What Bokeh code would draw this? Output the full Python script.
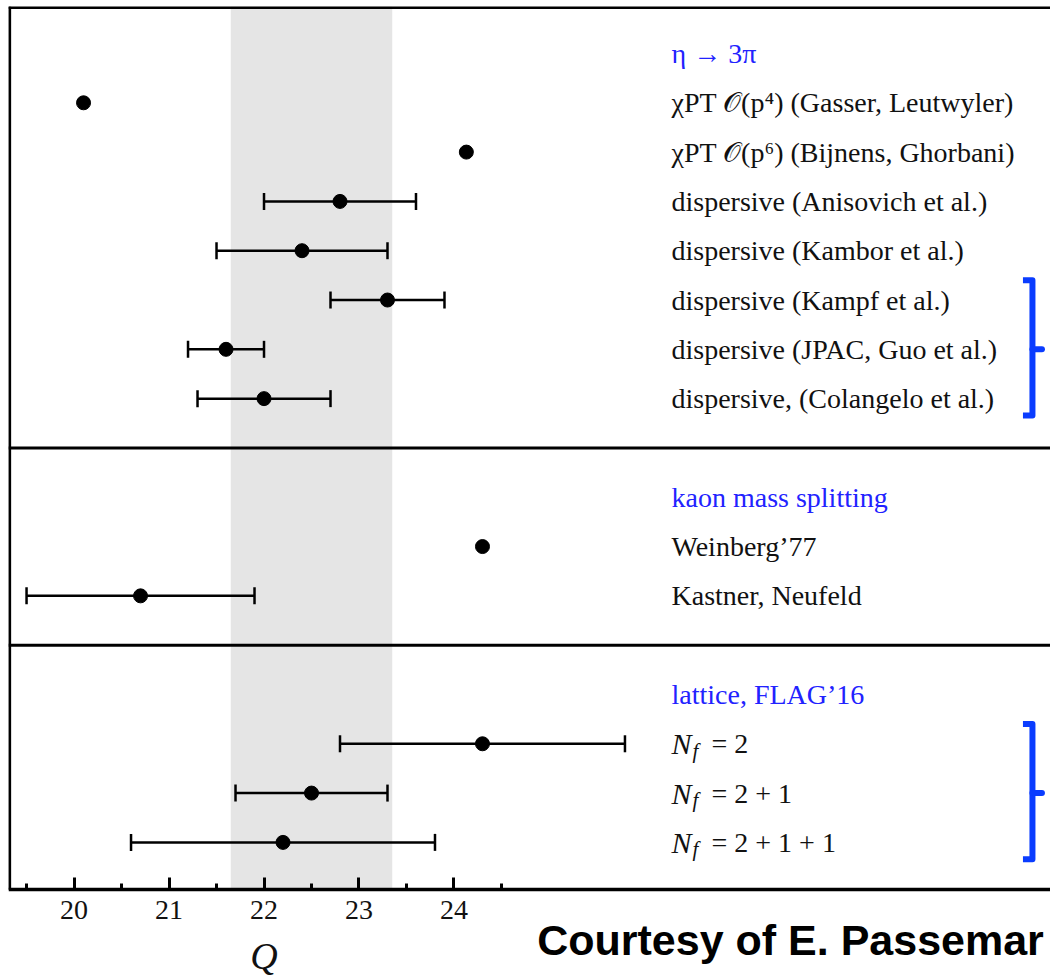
from bokeh.plotting import figure
from bokeh.models import (ColumnDataSource, Range1d, FixedTicker, Whisker, TeeHead,
                          BoxAnnotation, Span)
from bokeh.core.properties import value
from bokeh.embed import file_html
from bokeh.resources import INLINE

# ---------------- data ----------------
group_titles = ["η → 3π", "kaon mass splitting", "lattice, FLAG’16"]
group_sizes = [7, 2, 3]
labels = [
    "χPT 𝒪(p⁴) (Gasser, Leutwyler)",
    "χPT 𝒪(p⁶) (Bijnens, Ghorbani)",
    "dispersive (Anisovich et al.)",
    "dispersive (Kambor et al.)",
    "dispersive (Kampf et al.)",
    "dispersive (JPAC, Guo et al.)",
    "dispersive, (Colangelo et al.)",
    "Weinberg’77",
    "Kastner, Neufeld",
    "N_f = 2",
    "N_f = 2 + 1",
    "N_f = 2 + 1 + 1",
]
q_central = [20.1, 24.13, 22.8, 22.4, 23.3, 21.6, 22.0, 24.3, 20.7, 24.3, 22.5, 22.2]
q_lower = [None, None, 22.0, 21.5, 22.7, 21.2, 21.3, None, 19.5, 22.8, 21.7, 20.6]
q_upper = [None, None, 23.6, 23.3, 23.9, 22.0, 22.7, None, 21.9, 25.8, 23.3, 23.8]
band_low, band_high = 21.65, 23.35
tick_values = [20, 21, 22, 23, 24]
minor_values = [19.5, 20.5, 21.5, 22.5, 23.5, 24.5]
brace_groups = [(4, 6), (9, 11)]   # item index ranges marked with a brace
axis_title = "Q"
axis_title_at = 22.0
credit = "Courtesy of E. Passemar"

# ---------------- layout of rows ----------------
item_rows, title_rows, sep_rows = [], [], []
r = 0
for gi, n in enumerate(group_sizes):
    title_rows.append(r)
    r += 1
    for _ in range(n):
        item_rows.append(r)
        r += 1
    if gi < len(group_sizes) - 1:
        sep_rows.append(r)
        r += 1
bottom_row = r
AXIS_Y = bottom_row - 0.04
TOP_Y = -0.953

X0, X1 = 19.31, 30.28
LABEL_X = 26.29
SERIF = value("Liberation Serif")

p = figure(width=1050, height=976, output_backend="svg", toolbar_location=None,
           x_range=Range1d(X0, X1), y_range=Range1d(18.72, TOP_Y),
           min_border_left=8, min_border_right=0, min_border_top=6,
           min_border_bottom=0)
p.outline_line_color = None
p.yaxis.visible = False
p.xgrid.visible = False
p.ygrid.visible = False
p.background_fill_color = "white"

# grey band
p.add_layout(BoxAnnotation(left=band_low, right=band_high, top=TOP_Y, bottom=AXIS_Y,
                           fill_color="#e5e5e5", fill_alpha=1.0, line_color=None,
                           level="underlay"))

# borders & separators
p.segment(x0=[X0 + 0.012], y0=[TOP_Y], x1=[X0 + 0.012], y1=[AXIS_Y],
          line_color="black", line_width=3)
p.add_layout(Span(location=TOP_Y + 0.02, dimension="width", line_color="black", line_width=3))
for s in sep_rows:
    p.add_layout(Span(location=s, dimension="width", line_color="black", line_width=3))

# error bars
eb = dict(x=[], lo=[], hi=[], y=[])
for i, (lo, hi) in enumerate(zip(q_lower, q_upper)):
    if lo is not None:
        eb["lo"].append(lo); eb["hi"].append(hi); eb["y"].append(item_rows[i]); eb["x"].append(q_central[i])
ebs = ColumnDataSource(eb)
p.add_layout(Whisker(source=ebs, base="y", lower="lo", upper="hi", dimension="width",
                     line_color="black", line_width=2.5, level="glyph",
                     lower_head=TeeHead(size=17, line_width=2.5, line_color="black"),
                     upper_head=TeeHead(size=17, line_width=2.5, line_color="black")))

pts = ColumnDataSource(dict(x=q_central, y=item_rows))
p.scatter("x", "y", source=pts, size=14, color="black")

# labels
plain_x, plain_y, plain_t = [], [], []
nf_y, nf_tail = [], []
for i, lab in enumerate(labels):
    if lab.startswith("N_f"):
        nf_y.append(item_rows[i]); nf_tail.append(lab[4:])
    else:
        plain_x.append(LABEL_X); plain_y.append(item_rows[i]); plain_t.append(lab)
p.text(x="x", y="y", text="t", source=ColumnDataSource(dict(x=plain_x, y=plain_y, t=plain_t)),
       text_font=SERIF, text_font_size="28px", text_color="#111111",
       text_baseline="middle", text_align="left")
p.text(x=[LABEL_X] * len(group_titles), y=title_rows, text=group_titles,
       text_font=SERIF, text_font_size="28px", text_color="#2222ff",
       text_baseline="middle", text_align="left")
nfx = [LABEL_X] * len(nf_y)
p.text(x=nfx, y=nf_y, text=["N"] * len(nf_y), text_font=SERIF, text_font_style="italic",
       text_font_size="30px", text_color="#111111", text_baseline="middle")
p.text(x=nfx, y=nf_y, text=["f"] * len(nf_y), text_font=SERIF, text_font_style="italic",
       text_font_size="21px", text_color="#111111", text_baseline="middle",
       x_offset=21, y_offset=7)
p.text(x=nfx, y=nf_y, text=nf_tail, text_font=SERIF,
       text_font_size="28px", text_color="#111111", text_baseline="middle", x_offset=40)

# braces
for a, b in brace_groups:
    y0 = item_rows[a] - 0.4
    y1 = item_rows[b] + 0.34
    ym = (item_rows[a] + item_rows[b]) / 2
    p.line(x=[29.99, 30.09, 30.09, 29.99], y=[y0, y0, y1, y1], line_color="#0a3cff",
           line_width=6, line_join="round")
    p.line(x=[30.09, 30.19], y=[ym, ym], line_color="#0a3cff", line_width=6, line_cap="round")

# x axis, drawn at the bottom of the panels (fixed location inside the frame)
ax = p.xaxis[0]
ax.fixed_location = AXIS_Y
ax.ticker = FixedTicker(ticks=tick_values, minor_ticks=minor_values)
ax.axis_line_width = 3.5
ax.axis_line_color = "black"
ax.major_tick_in = 12
ax.major_tick_out = 0
ax.minor_tick_in = 6
ax.minor_tick_out = 0
ax.major_tick_line_width = 3
ax.minor_tick_line_width = 3
ax.major_label_text_font = "Liberation Serif"
ax.major_label_text_font_size = "28px"
ax.major_label_text_color = "#111111"
ax.major_label_standoff = 11

# axis title and credit below the axis
p.text(x=[axis_title_at], y=[bottom_row + 1.3], text=[axis_title], text_font=SERIF,
       text_font_style="italic", text_font_size="38px", text_color="#111111",
       text_align="center", text_baseline="middle")
p.text(x=[30.21], y=[bottom_row + 0.97], text=[credit], text_font=value("Liberation Sans"),
       text_font_style="bold", text_font_size="43px", text_color="black",
       text_align="right", text_baseline="middle")

open("out.html", "w").write(file_html(p, INLINE))
